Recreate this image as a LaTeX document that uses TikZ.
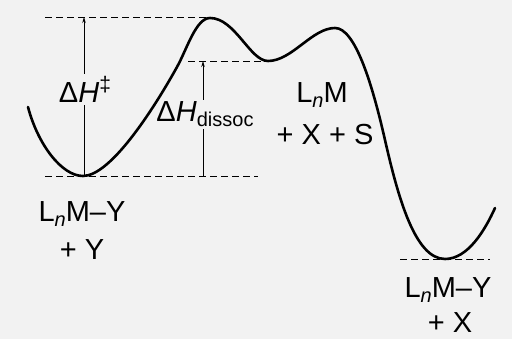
\documentclass[tikz,border=0pt]{standalone}
\usepackage{fontspec}
\setmainfont{Liberation Sans}
\usetikzlibrary{arrows.meta}
\definecolor{bgc}{gray}{0.95}
\newcommand{\lsub}[1]{\raisebox{-0.3ex}{\fontsize{20}{20}\selectfont #1}}
\newcommand{\lsup}[1]{\raisebox{0.75ex}{\fontsize{21}{21}\selectfont #1}}
\begin{document}
\begin{tikzpicture}[x=1pt,y=-1pt,
  lab/.style={font=\fontsize{29}{32}\selectfont, inner sep=0pt, anchor=base},
  labfill/.style={lab, fill=bgc, inner sep=2pt},
  curve/.style={line width=2.6pt, line cap=round},
  guide/.style={dash pattern=on 7pt off 4pt, line width=0.8pt},
  marker/.style={line width=0.8pt, -{Stealth[length=6pt,width=3.5pt]}}]
\path[fill=bgc] (0,0) rectangle (512,339);
\useasboundingbox (0,0) rectangle (512,339);
% curve key points
\coordinate (s) at (28,107);
\coordinate (m1) at (83,176);
\coordinate (i1) at (177,67);
\coordinate (p1) at (210,18);
\coordinate (m2) at (268,61);
\coordinate (p2) at (335,28);
\coordinate (i2) at (385,140);
\coordinate (m3) at (445,259);
\coordinate (e) at (495,208);
% dashed guides
\coordinate (gtl) at (45,17);
\coordinate (gtr) at (208,17);
\coordinate (gml) at (188,61);
\coordinate (gmr) at (272,61);
\coordinate (gbl) at (45,176);
\coordinate (gbr) at (258,176);
\coordinate (grl) at (400,259);
\coordinate (grr) at (490,259);
\draw[guide] (gtl) -- (gtr);
\draw[guide] (gml) -- (gmr);
\draw[guide] (gbl) -- (gbr);
\draw[guide] (grl) -- (grr);
% arrows
\coordinate (a1b) at (84,176);
\coordinate (a1t) at (84,17);
\coordinate (a2b) at (203,176);
\coordinate (a2t) at (203,61);
\draw[marker] (a1b) -- (a1t);
\draw[marker] (a2b) -- (a2t);
\node[labfill] (dh) at (85,103) {Δ\textit{H}\lsup{‡}};
\node[labfill] (dhd) at (205,122) {Δ\textit{H}\lsub{dissoc}};
% curve
\draw[curve] (s) .. controls (38,145) and (62,176) .. (m1)
  .. controls (110,176) and (152,112) .. (i1)
  .. controls (187,49) and (196,18) .. (p1)
  .. controls (235,18) and (250,61) .. (m2)
  .. controls (292,61) and (312,28) .. (p2)
  .. controls (355,28) and (372,83) .. (i2)
  .. controls (398,197) and (415,259) .. (m3)
  .. controls (468,259) and (485,230) .. (e);
% labels
\node[lab] (lm) at (322,103) {L\lsub{\textit{n}}M};
\node[lab] (lmxs) at (325,145) {+ X + S};
\node[lab] (lmy1) at (82,222) {L\lsub{\textit{n}}M–Y};
\node[lab] (py) at (82,260) {+ Y};
\node[lab] (lmy2) at (448,298) {L\lsub{\textit{n}}M–Y};
\node[lab] (px) at (450,333) {+ X};
\end{tikzpicture}
\end{document}
